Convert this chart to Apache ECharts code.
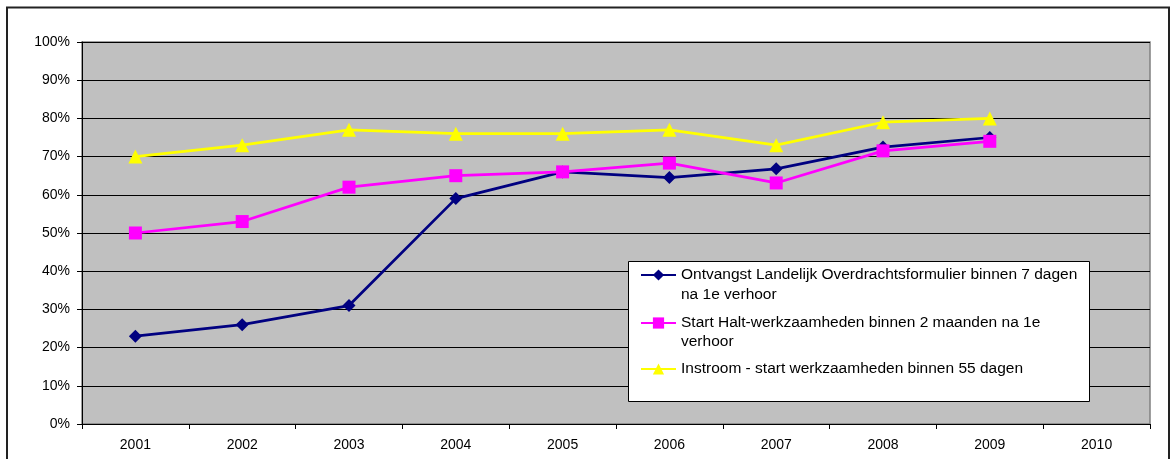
<!DOCTYPE html>
<html>
<head>
<meta charset="utf-8">
<script src="https://cdn.jsdelivr.net/npm/echarts@6/dist/echarts.min.js"></script>
<style>
html,body{margin:0;padding:0;background:#fff;}
#chart{width:1171px;height:459px;}
</style>
</head>
<body>
<div id="chart"></div>
<script>
const years = ['2001','2002','2003','2004','2005','2006','2007','2008','2009','2010'];
const nameOntvangst = 'Ontvangst Landelijk Overdrachtsformulier binnen 7 dagen';
const contOntvangst = 'na 1e verhoor';
const nameStart = 'Start Halt-werkzaamheden binnen 2 maanden na 1e';
const contStart = 'verhoor';
const nameInstroom = 'Instroom - start werkzaamheden binnen 55 dagen';
const ontvangst = [0.23, 0.26, 0.31, 0.59, 0.66, 0.645, 0.668, 0.725, 0.75, null];
const startHalt = [0.50, 0.53, 0.62, 0.65, 0.66, 0.683, 0.631, 0.715, 0.74, null];
const instroom = [0.70, 0.73, 0.77, 0.76, 0.76, 0.77, 0.73, 0.79, 0.80, null];

const FONT = '"Liberation Sans", Arial, sans-serif';
const LEG_FS = 15.5;
const chart = echarts.init(document.getElementById('chart'), null, {renderer: 'canvas'});

function legendCfg(name, top) {
  return {
    show: true,
    z: 20,
    data: [name],
    orient: 'vertical',
    left: 640,
    top: top,
    padding: 0,
    itemWidth: 35,
    itemHeight: 14,
    itemGap: 0,
    selectedMode: false,
    textStyle: {fontFamily: FONT, fontSize: LEG_FS, color: '#000', lineHeight: 19.5}
  };
}

chart.setOption({
  animation: false,
  backgroundColor: '#ffffff',
  textStyle: {fontFamily: FONT},
  graphic: [
    {type: 'rect', z: 1, shape: {x: 7, y: 7.5, width: 1162, height: 500},
     style: {fill: 'none', stroke: '#222', lineWidth: 2}},
    {type: 'rect', z: 10, shape: {x: 628.5, y: 261.5, width: 461, height: 140},
     style: {fill: '#fff', stroke: '#000', lineWidth: 1}},
    {type: 'text', z: 21, x: 681, y: 295,
     style: {text: contOntvangst, font: LEG_FS + 'px ' + FONT, fill: '#000', verticalAlign: 'middle'}},
    {type: 'text', z: 21, x: 681, y: 342,
     style: {text: contStart, font: LEG_FS + 'px ' + FONT, fill: '#000', verticalAlign: 'middle'}}
  ],
  grid: {
    left: 82, right: 21, top: 42, bottom: 35,
    show: true, backgroundColor: '#C0C0C0', borderColor: '#808080', borderWidth: 1.5
  },
  legend: [
    legendCfg(nameOntvangst, 265.25),
    legendCfg(nameStart, 313.25),
    legendCfg(nameInstroom, 359.25)
  ],
  xAxis: {
    type: 'category',
    data: years,
    boundaryGap: true,
    axisLine: {show: true, lineStyle: {color: '#000', width: 1}},
    axisTick: {show: true, length: 5, interval: 0, lineStyle: {color: '#000'}},
    axisLabel: {fontFamily: FONT, fontSize: 14, color: '#000', margin: 14, interval: 0},
    splitLine: {show: false}
  },
  yAxis: {
    type: 'value',
    min: 0, max: 1, interval: 0.1,
    axisLine: {show: true, lineStyle: {color: '#000', width: 1}},
    axisTick: {show: true, length: 5, lineStyle: {color: '#000'}},
    axisLabel: {fontFamily: FONT, fontSize: 14, color: '#000', margin: 12,
      formatter: v => Math.round(v * 100) + '%'},
    splitLine: {show: true, lineStyle: {color: '#000', width: 1}}
  },
  series: [
    {name: nameOntvangst, type: 'line', data: ontvangst, symbol: 'diamond', symbolSize: 13,
     lineStyle: {color: '#000080', width: 2.75}, itemStyle: {color: '#000080'}, z: 3},
    {name: nameStart, type: 'line', data: startHalt, symbol: 'rect', symbolSize: 13,
     lineStyle: {color: '#FF00FF', width: 2.75}, itemStyle: {color: '#FF00FF'}, z: 4},
    {name: nameInstroom, type: 'line', data: instroom, symbol: 'triangle', symbolSize: 14,
     lineStyle: {color: '#FFFF00', width: 2.75}, itemStyle: {color: '#FFFF00'}, z: 2}
  ]
});
</script>
</body>
</html>
